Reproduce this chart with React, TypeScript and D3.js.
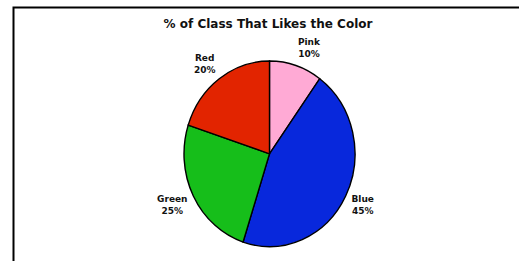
import React from 'react';
import * as d3 from 'd3';

const categories = ['Pink', 'Blue', 'Green', 'Red'];
const percents = [10, 45, 25, 20];
const sliceColors = ['#ffaad5', '#0828dc', '#16be1a', '#e22400'];
const title = '% of Class That Likes the Color';

const W = 519;
const H = 261;
const cx = 269.5;
const cy = 153.8;
const r = 85.5;
const yStretch = 92.8 / 85.5; // the pie in the picture is a bit taller than wide
const FONT = 'DejaVu Sans, Verdana, sans-serif';

// measure label text so the block can sit beside the pie edge
const ctx = document.createElement('canvas').getContext('2d');
const textWidth = (s: string) => {
  if (!ctx) return s.length * 6;
  ctx.font = `bold 9px ${FONT}`;
  return ctx.measureText(s).width;
};

const App = () => {
  const data = categories.map((c, i) => ({ name: c, value: percents[i], color: sliceColors[i] }));
  const pie = d3.pie<any>().sort(null).value((d) => d.value);
  const arcs = pie(data);
  const arc = d3.arc<any>().innerRadius(0).outerRadius(r);
  const labelRx = 92;
  const labelRy = 112;

  return (
    <svg width={W} height={H} style={{ display: 'block', position: 'absolute', left: 0, top: 0 }}>
      <rect x={13.5} y={7.5} width={W} height={H} fill="#fff" stroke="#000" strokeWidth={2} />
      <text x={268} y={28} textAnchor="middle" fontFamily={FONT} fontWeight="bold" fontSize={12} fill="#111">
        {title}
      </text>
      <g transform={`translate(${cx},${cy}) scale(1,${yStretch})`}>
        {arcs.map((a, i) => (
          <path
            key={i}
            d={arc(a) || ''}
            fill={a.data.color}
            stroke="#000"
            strokeWidth={1.4}
            vectorEffect="non-scaling-stroke"
          />
        ))}
      </g>
      {arcs.map((a, i) => {
        const mid = (a.startAngle + a.endAngle) / 2;
        const s = Math.sin(mid);
        const l1 = a.data.name;
        const l2 = `${a.data.value}%`;
        const half = Math.max(textWidth(l1), textWidth(l2)) / 2;
        const lx = cx + s * labelRx + (s >= 0 ? half : -half);
        const ly = cy - Math.cos(mid) * labelRy;
        return (
          <text key={i} x={lx} y={ly} textAnchor="middle" fontFamily={FONT} fontWeight="bold" fontSize={9} fill="#111">
            <tspan x={lx} dy="-2.5">{l1}</tspan>
            <tspan x={lx} dy="12">{l2}</tspan>
          </text>
        );
      })}
    </svg>
  );
};

export default App;
